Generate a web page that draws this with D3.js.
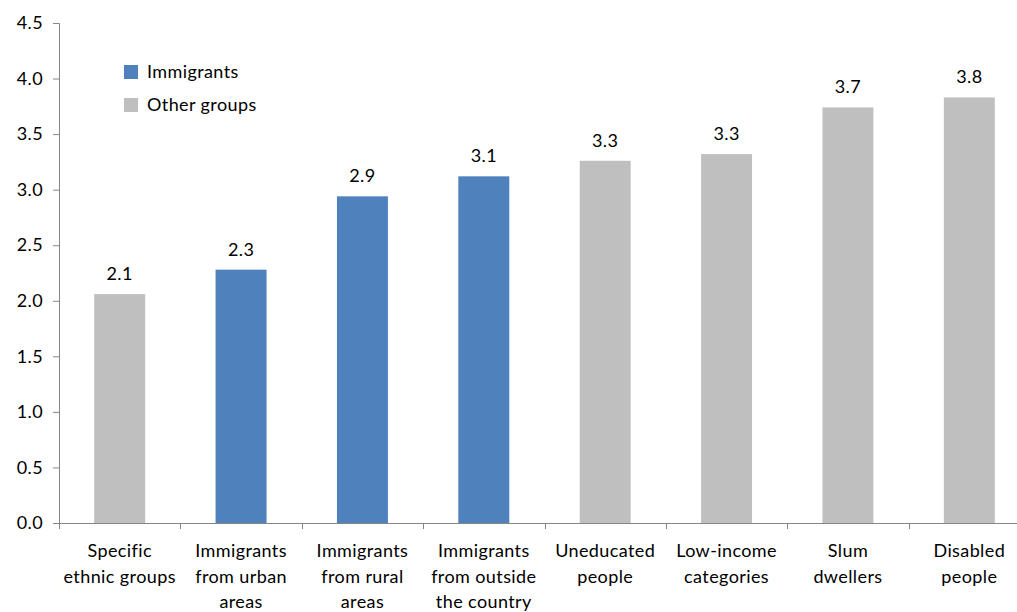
<!DOCTYPE html>
<html>
<head>
<meta charset="utf-8">
<script src="https://cdn.jsdelivr.net/npm/d3@7"></script>
<style>
  body { margin: 0; background: #fff; }
  svg text { font-family: Lato, "Open Sans", sans-serif; fill: #000; letter-spacing: 0.4px; }
</style>
</head>
<body>
<svg id="chart" width="1017" height="612"></svg>
<script>
// group labels (each line of the axis label is its own entry)
let groups = [
  ["Specific", "ethnic groups"],
  ["Immigrants", "from urban", "areas"],
  ["Immigrants", "from rural", "areas"],
  ["Immigrants", "from outside", "the country"],
  ["Uneducated", "people"],
  ["Low-income", "categories"],
  ["Slum", "dwellers"],
  ["Disabled", "people"]
];
let scores = [2.06, 2.28, 2.94, 3.12, 3.26, 3.32, 3.74, 3.83];
let kinds = ["Other groups", "Immigrants", "Immigrants", "Immigrants",
  "Other groups", "Other groups", "Other groups", "Other groups"];
let legendItems = ["Immigrants", "Other groups"];
let yTicks = [0, 0.5, 1, 1.5, 2, 2.5, 3, 3.5, 4, 4.5];

let colour = d3.scaleOrdinal()
  .domain(legendItems)
  .range(["#4f81bd", "#bfbfbf"]);

let svg = d3.select("#chart");
let plotLeft = 59, plotTop = 23, plotBottom = 523, plotRight = 1030;
let fontSize = "18px";

let x = d3.scaleBand()
  .domain(d3.range(groups.length))
  .range([plotLeft, plotRight])
  .paddingInner(0.58)
  .paddingOuter(0.29);

let y = d3.scaleLinear().domain([0, 4.5]).range([plotBottom, plotTop]);

// y axis
let yAxis = svg.append("g")
  .attr("transform", "translate(" + plotLeft + ",0)")
  .call(d3.axisLeft(y).tickValues(yTicks).tickFormat(d3.format(".1f")).tickSizeOuter(0).tickSize(6).tickPadding(10));
yAxis.select(".domain").attr("stroke", "#868686");
yAxis.selectAll(".tick line").attr("stroke", "#868686");
yAxis.selectAll(".tick text").style("font-size", fontSize).attr("fill", "#000");

// bars
svg.selectAll("rect.bar")
  .data(scores)
  .enter()
  .append("rect")
  .attr("class", "bar")
  .attr("x", (d, i) => x(i))
  .attr("width", x.bandwidth())
  .attr("y", (d) => y(d))
  .attr("height", (d) => y(0) - y(d))
  .attr("fill", (d, i) => colour(kinds[i]));

// value labels above bars
svg.selectAll("text.value")
  .data(scores)
  .enter()
  .append("text")
  .attr("class", "value")
  .attr("x", (d, i) => x(i) + x.bandwidth() / 2)
  .attr("y", (d) => y(d) - 14)
  .attr("text-anchor", "middle")
  .style("font-size", fontSize)
  .text((d) => d3.format(".1f")(d));

// x axis line with ticks between the groups
let step = x.step();
svg.append("line")
  .attr("x1", plotLeft).attr("x2", plotRight)
  .attr("y1", plotBottom + 0.5).attr("y2", plotBottom + 0.5)
  .attr("stroke", "#868686");
svg.selectAll("line.xtick")
  .data(d3.range(groups.length + 1))
  .enter()
  .append("line")
  .attr("class", "xtick")
  .attr("x1", (i) => Math.round(plotLeft + i * step) + 0.5)
  .attr("x2", (i) => Math.round(plotLeft + i * step) + 0.5)
  .attr("y1", plotBottom)
  .attr("y2", plotBottom + 6)
  .attr("stroke", "#868686");

// multi-line group labels
let labels = svg.selectAll("text.group")
  .data(groups)
  .enter()
  .append("text")
  .attr("class", "group")
  .attr("text-anchor", "middle")
  .style("font-size", fontSize);
labels.selectAll("tspan")
  .data((lines, i) => lines.map((t) => ({ t: t, i: i })))
  .enter()
  .append("tspan")
  .attr("x", (d) => x(d.i) + x.bandwidth() / 2)
  .attr("y", (d, j) => 557 + j * 25.5)
  .text((d) => d.t);

// legend
let legend = svg.append("g").attr("transform", "translate(124,65)");
let entry = legend.selectAll("g")
  .data(legendItems)
  .enter()
  .append("g")
  .attr("transform", (d, i) => "translate(0," + i * 33 + ")");
entry.append("rect")
  .attr("width", 14)
  .attr("height", 14)
  .attr("fill", (d) => colour(d));
entry.append("text")
  .attr("x", 23)
  .attr("y", 13)
  .style("font-size", fontSize)
  .text((d) => d);
</script>
</body>
</html>
